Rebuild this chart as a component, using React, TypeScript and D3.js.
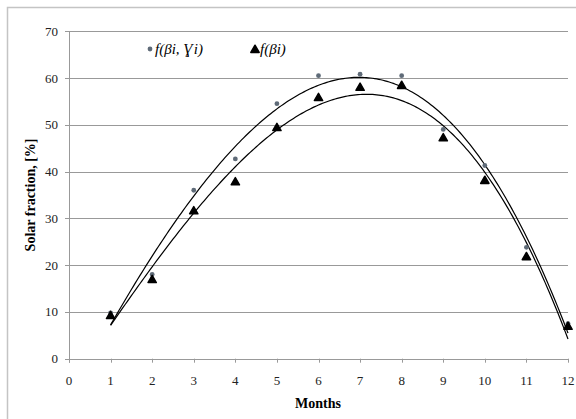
import React from 'react';
import * as d3 from 'd3';

const months = [1, 2, 3, 4, 5, 6, 7, 8, 9, 10, 11, 12];
const fBetaGamma = [9.8, 18.0, 36.0, 42.7, 54.5, 60.5, 60.8, 60.5, 49.0, 41.3, 23.8, 7.5];
const fBeta = [9.3, 17.0, 31.7, 37.9, 49.5, 55.9, 58.1, 58.5, 47.3, 38.2, 21.9, 7.0];
const xTicks = [0, 1, 2, 3, 4, 5, 6, 7, 8, 9, 10, 11, 12];
const yTicks = [0, 10, 20, 30, 40, 50, 60, 70];

// least squares polynomial trendline (order n)
function polyFit(xs: number[], ys: number[], n: number) {
  const k = n + 1;
  const m: number[][] = [];
  for (let r = 0; r < k; r++) {
    const row: number[] = [];
    for (let c = 0; c < k; c++) row.push(d3.sum(xs, x => Math.pow(x, r + c)));
    row.push(d3.sum(xs, (x, i) => Math.pow(x, r) * ys[i]));
    m.push(row);
  }
  for (let i = 0; i < k; i++) {
    for (let r = i + 1; r < k; r++) {
      const f = m[r][i] / m[i][i];
      for (let j = i; j <= k; j++) m[r][j] -= f * m[i][j];
    }
  }
  const c = new Array(k).fill(0);
  for (let i = k - 1; i >= 0; i--) {
    let s = m[i][k];
    for (let j = i + 1; j < k; j++) s -= m[i][j] * c[j];
    c[i] = s / m[i][i];
  }
  return (x: number) => c.reduce((a, ci, i) => a + ci * Math.pow(x, i), 0);
}

export default function App() {
  const width = 576, height = 419;
  const x = d3.scaleLinear().domain([0, 12]).range([69, 568]);
  const y = d3.scaleLinear().domain([0, 70]).range([358.7, 31.2]);
  const font = '"Liberation Serif", "Times New Roman", serif';

  const fitA = polyFit(months, fBetaGamma, 3);
  const fitB = polyFit(months, fBeta, 3);
  const xs = d3.range(1, 12.001, 0.05);
  const line = d3.line<number[]>().x(d => x(d[0])).y(d => y(d[1]));
  const pathA = line(xs.map(v => [v, fitA(v)]));
  const pathB = line(xs.map(v => [v, fitB(v)]));
  const tri = d3.symbol().type(d3.symbolTriangle).size(30);

  return (
    <svg width={width} height={height} style={{ position: 'absolute', left: 0, top: 0 }}>
      <rect x={0} y={0} width={width} height={height} fill="#fff" />
      <rect x={7.5} y={7.5} width={width} height={height} fill="none" stroke="#c4c4c4" strokeWidth={1.5} />
      {yTicks.filter(t => t > 0).map(t => (
        <line key={t} x1={x(0)} x2={x(12)} y1={Math.round(y(t)) + 0.5} y2={Math.round(y(t)) + 0.5} stroke="#999" />
      ))}
      <line x1={x(0) + 0.5} x2={x(0) + 0.5} y1={y(70)} y2={y(0) + 4} stroke="#999" />
      <line x1={x(0) - 4} x2={x(12)} y1={Math.round(y(0)) + 0.5} y2={Math.round(y(0)) + 0.5} stroke="#999" />
      {yTicks.map(t => (
        <g key={t}>
          <line x1={x(0) - 4} x2={x(0)} y1={Math.round(y(t)) + 0.5} y2={Math.round(y(t)) + 0.5} stroke="#999" />
          <text x={58} y={y(t)} dy="0.35em" textAnchor="end" fontFamily={font} fontSize={13} fill="#222">{t}</text>
        </g>
      ))}
      {xTicks.map(t => (
        <g key={t}>
          <line x1={Math.round(x(t)) + 0.5} x2={Math.round(x(t)) + 0.5} y1={y(0)} y2={y(0) + 4} stroke="#999" />
          <text x={x(t)} y={380} dy="0.35em" textAnchor="middle" fontFamily={font} fontSize={13} fill="#222">{t}</text>
        </g>
      ))}
      <text x={318} y={403} dy="0.35em" textAnchor="middle" fontFamily={font} fontSize={14} fontWeight="bold">Months</text>
      <text transform={`translate(30,${(y(0) + y(70)) / 2}) rotate(-90)`} dy="0.35em" textAnchor="middle" fontFamily={font} fontSize={14} fontWeight="bold">Solar fraction, [%]</text>

      <path d={pathA ?? ''} fill="none" stroke="#000" strokeWidth={1.2} />
      <path d={pathB ?? ''} fill="none" stroke="#000" strokeWidth={1.2} />

      {months.map((m, i) => (
        <circle key={'a' + m} cx={x(m)} cy={y(fBetaGamma[i])} r={2.4} fill="#5f6b78" />
      ))}
      {months.map((m, i) => (
        <path key={'b' + m} d={tri() ?? ''} transform={`translate(${x(m)},${y(fBeta[i]) + 1})`} fill="#000" stroke="#000" strokeWidth={1.5} strokeLinejoin="round" />
      ))}

      <circle cx={150} cy={49} r={2.4} fill="#5f6b78" />
      <text x={155} y={49} dy="0.35em" fontFamily={font} fontSize={15} fontStyle="italic">f(βi, Ɣi)</text>
      <path d={tri() ?? ''} transform="translate(255,50)" fill="#000" stroke="#000" strokeWidth={1.5} strokeLinejoin="round" />
      <text x={260} y={49} dy="0.35em" fontFamily={font} fontSize={15} fontStyle="italic">f(βi)</text>
    </svg>
  );
}
